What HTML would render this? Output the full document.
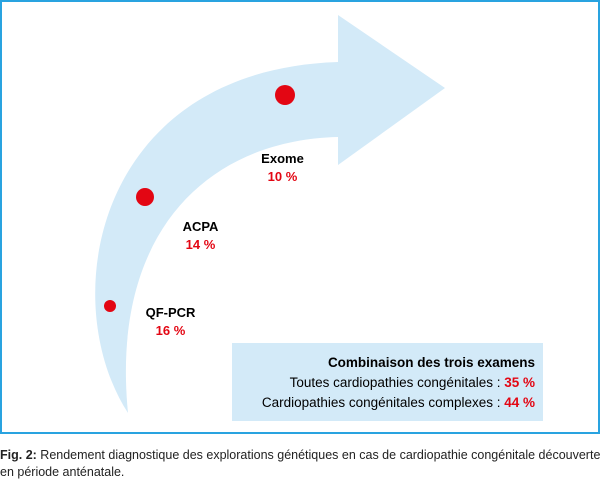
<!DOCTYPE html>
<html><head><meta charset="utf-8"><style>
body{margin:0;width:600px;height:480px;background:#fff;font-family:"Liberation Sans","DejaVu Sans",sans-serif;overflow:hidden;position:relative}
.frame{position:absolute;left:0;top:0;width:596px;height:430px;border:2px solid #29a3e0}
svg{position:absolute;left:0;top:0}
.t{position:absolute;font-size:13px;font-weight:bold;text-align:center;line-height:18px}
.r{color:#e30613}
.box{position:absolute;left:232px;top:343px;width:311px;height:78px;background:#d3eaf8}
.box div{position:absolute;right:8px;text-align:right;font-size:13.5px;white-space:nowrap}
.cap{position:absolute;left:0;top:447px;font-size:12.5px;line-height:17px;color:#222;white-space:nowrap}
</style></head><body>
<div class="frame"></div>
<svg width="600" height="480">
<path d="M128,413 C55,300 95,70 338,62 L338,15 L445,88 L338,165 L338,137 C210,140 110,230 128,413 Z" fill="#d3eaf8"/>
<circle cx="285" cy="95" r="10" fill="#e30613"/>
<circle cx="145" cy="197" r="9" fill="#e30613"/>
<circle cx="110" cy="306" r="6" fill="#e30613"/>
</svg>
<div class="t" style="left:250px;top:150px;width:65px">Exome<br><span class="r">10 %</span></div>
<div class="t" style="left:168px;top:218px;width:65px">ACPA<br><span class="r">14 %</span></div>
<div class="t" style="left:138px;top:304px;width:65px">QF-PCR<br><span class="r">16 %</span></div>
<div class="box">
<div style="top:12px;font-weight:bold">Combinaison des trois examens</div>
<div style="top:32px">Toutes cardiopathies congénitales : <b class="r">35 %</b></div>
<div style="top:52px">Cardiopathies congénitales complexes : <b class="r">44 %</b></div>
</div>
<div class="cap"><b>Fig. 2:</b> Rendement diagnostique des explorations génétiques en cas de cardiopathie congénitale découverte<br>en période anténatale.</div>
</body></html>
